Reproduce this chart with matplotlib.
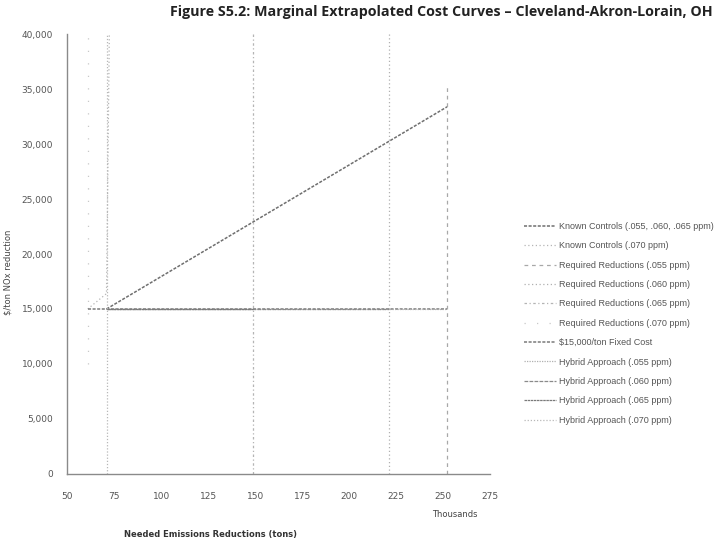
import matplotlib
matplotlib.use("Agg")
import matplotlib.pyplot as plt
from matplotlib.ticker import FuncFormatter, MultipleLocator

# values (x in thousand tons, y in $/ton)
known_main_x = [71, 252]
known_main_y = [15000, 33400]
known_070_x = [61, 71, 72.5]
known_070_y = [15000, 16400, 40000]

req_labels = ["Required Reductions (.055 ppm)", "Required Reductions (.060 ppm)",
              "Required Reductions (.065 ppm)", "Required Reductions (.070 ppm)"]
req_x = [252, 221, 149, 61]
req_bottom = [0, 0, 0, 10000]
req_top = [35500, 40000, 40000, 40000]

fixed_x = [61, 252]
fixed_y = [15000, 15000]

hyb_labels = ["Hybrid Approach (.055 ppm)", "Hybrid Approach (.060 ppm)",
              "Hybrid Approach (.065 ppm)", "Hybrid Approach (.070 ppm)"]
hyb_x = [[71, 252], [71, 221], [71, 149], [71, 71]]
hyb_y = [[15000, 15000], [15000, 15000], [15000, 15000], [0, 40000]]

fig = plt.figure(figsize=(7.25, 5.44), dpi=100)
ax = fig.add_axes([0.0924, 0.129, 0.584, 0.808])

ax.plot(known_main_x, known_main_y, color="#6f6f6f", lw=1.1, ls=(0, (2, 1)),
        label="Known Controls (.055, .060, .065 ppm)")
ax.plot(known_070_x, known_070_y, color="#b5b5b5", lw=0.9, ls=(0, (1, 2)),
        label="Known Controls (.070 ppm)")

req_styles = [(0, (3, 3)), (0, (1, 2)), (0, (2, 2, 1, 2)), (0, (1, 9))]
req_colors = ["#a8a8a8", "#b0b0b0", "#b4b4b4", "#c8c8c8"]
for lab, xv, y0, y1, st, c in zip(req_labels, req_x, req_bottom, req_top, req_styles, req_colors):
    ax.plot([xv, xv], [y0, y1], color=c, lw=0.9, ls=st, label=lab)

ax.plot(fixed_x, fixed_y, color="#7a7a7a", lw=1.1, ls=(0, (2, 1)),
        label="$15,000/ton Fixed Cost")

hyb_styles = [(0, (1, 1)), (0, (3, 1)), (0, (2, 0.5)), (0, (1, 1.5))]
hyb_colors = ["#b0b0b0", "#8a8a8a", "#7a7a7a", "#b8b8b8"]
for lab, xs, ys, st, c in zip(hyb_labels, hyb_x, hyb_y, hyb_styles, hyb_colors):
    ax.plot(xs, ys, color=c, lw=0.9, ls=st, label=lab)

ax.set_xlim(50, 275)
ax.set_ylim(0, 40000)
ax.xaxis.set_major_locator(MultipleLocator(25))
ax.yaxis.set_major_locator(MultipleLocator(5000))
ax.yaxis.set_major_formatter(FuncFormatter(lambda v, p: f"{int(v):,}"))
for s in ["top", "right"]:
    ax.spines[s].set_visible(False)
for s in ["left", "bottom"]:
    ax.spines[s].set_color("#8a8a8a")
    ax.spines[s].set_linewidth(1.0)
ax.tick_params(colors="#8a8a8a", labelcolor="#555555", labelsize=6.5, length=0, width=0.7)
ax.tick_params(axis="x", pad=13)
ax.tick_params(axis="y", pad=10)

fig.text(0.234, 0.978, "Figure S5.2: Marginal Extrapolated Cost Curves \u2013 Cleveland-Akron-Lorain, OH",
         fontsize=10.3, fontweight="bold", family="Open Sans", color="#222222", va="center")
fig.text(0.29, 0.018, "Needed Emissions Reductions (tons)", fontsize=6, color="#333333",
         fontweight="bold", ha="center", va="center")
fig.text(0.627, 0.055, "Thousands", fontsize=6, color="#444444", ha="center", va="center")
fig.text(0.011, 0.5, "$/ton NOx reduction", fontsize=6, color="#444444", rotation=90,
         ha="center", va="center")

fig.legend(loc="upper left", bbox_to_anchor=(0.712, 0.607), frameon=False,
           prop={"family": "Liberation Sans", "size": 6.5},
           handlelength=3.5, handletextpad=0.3, labelspacing=1.15, labelcolor="#555555")

fig.savefig("out.png", dpi=100)
